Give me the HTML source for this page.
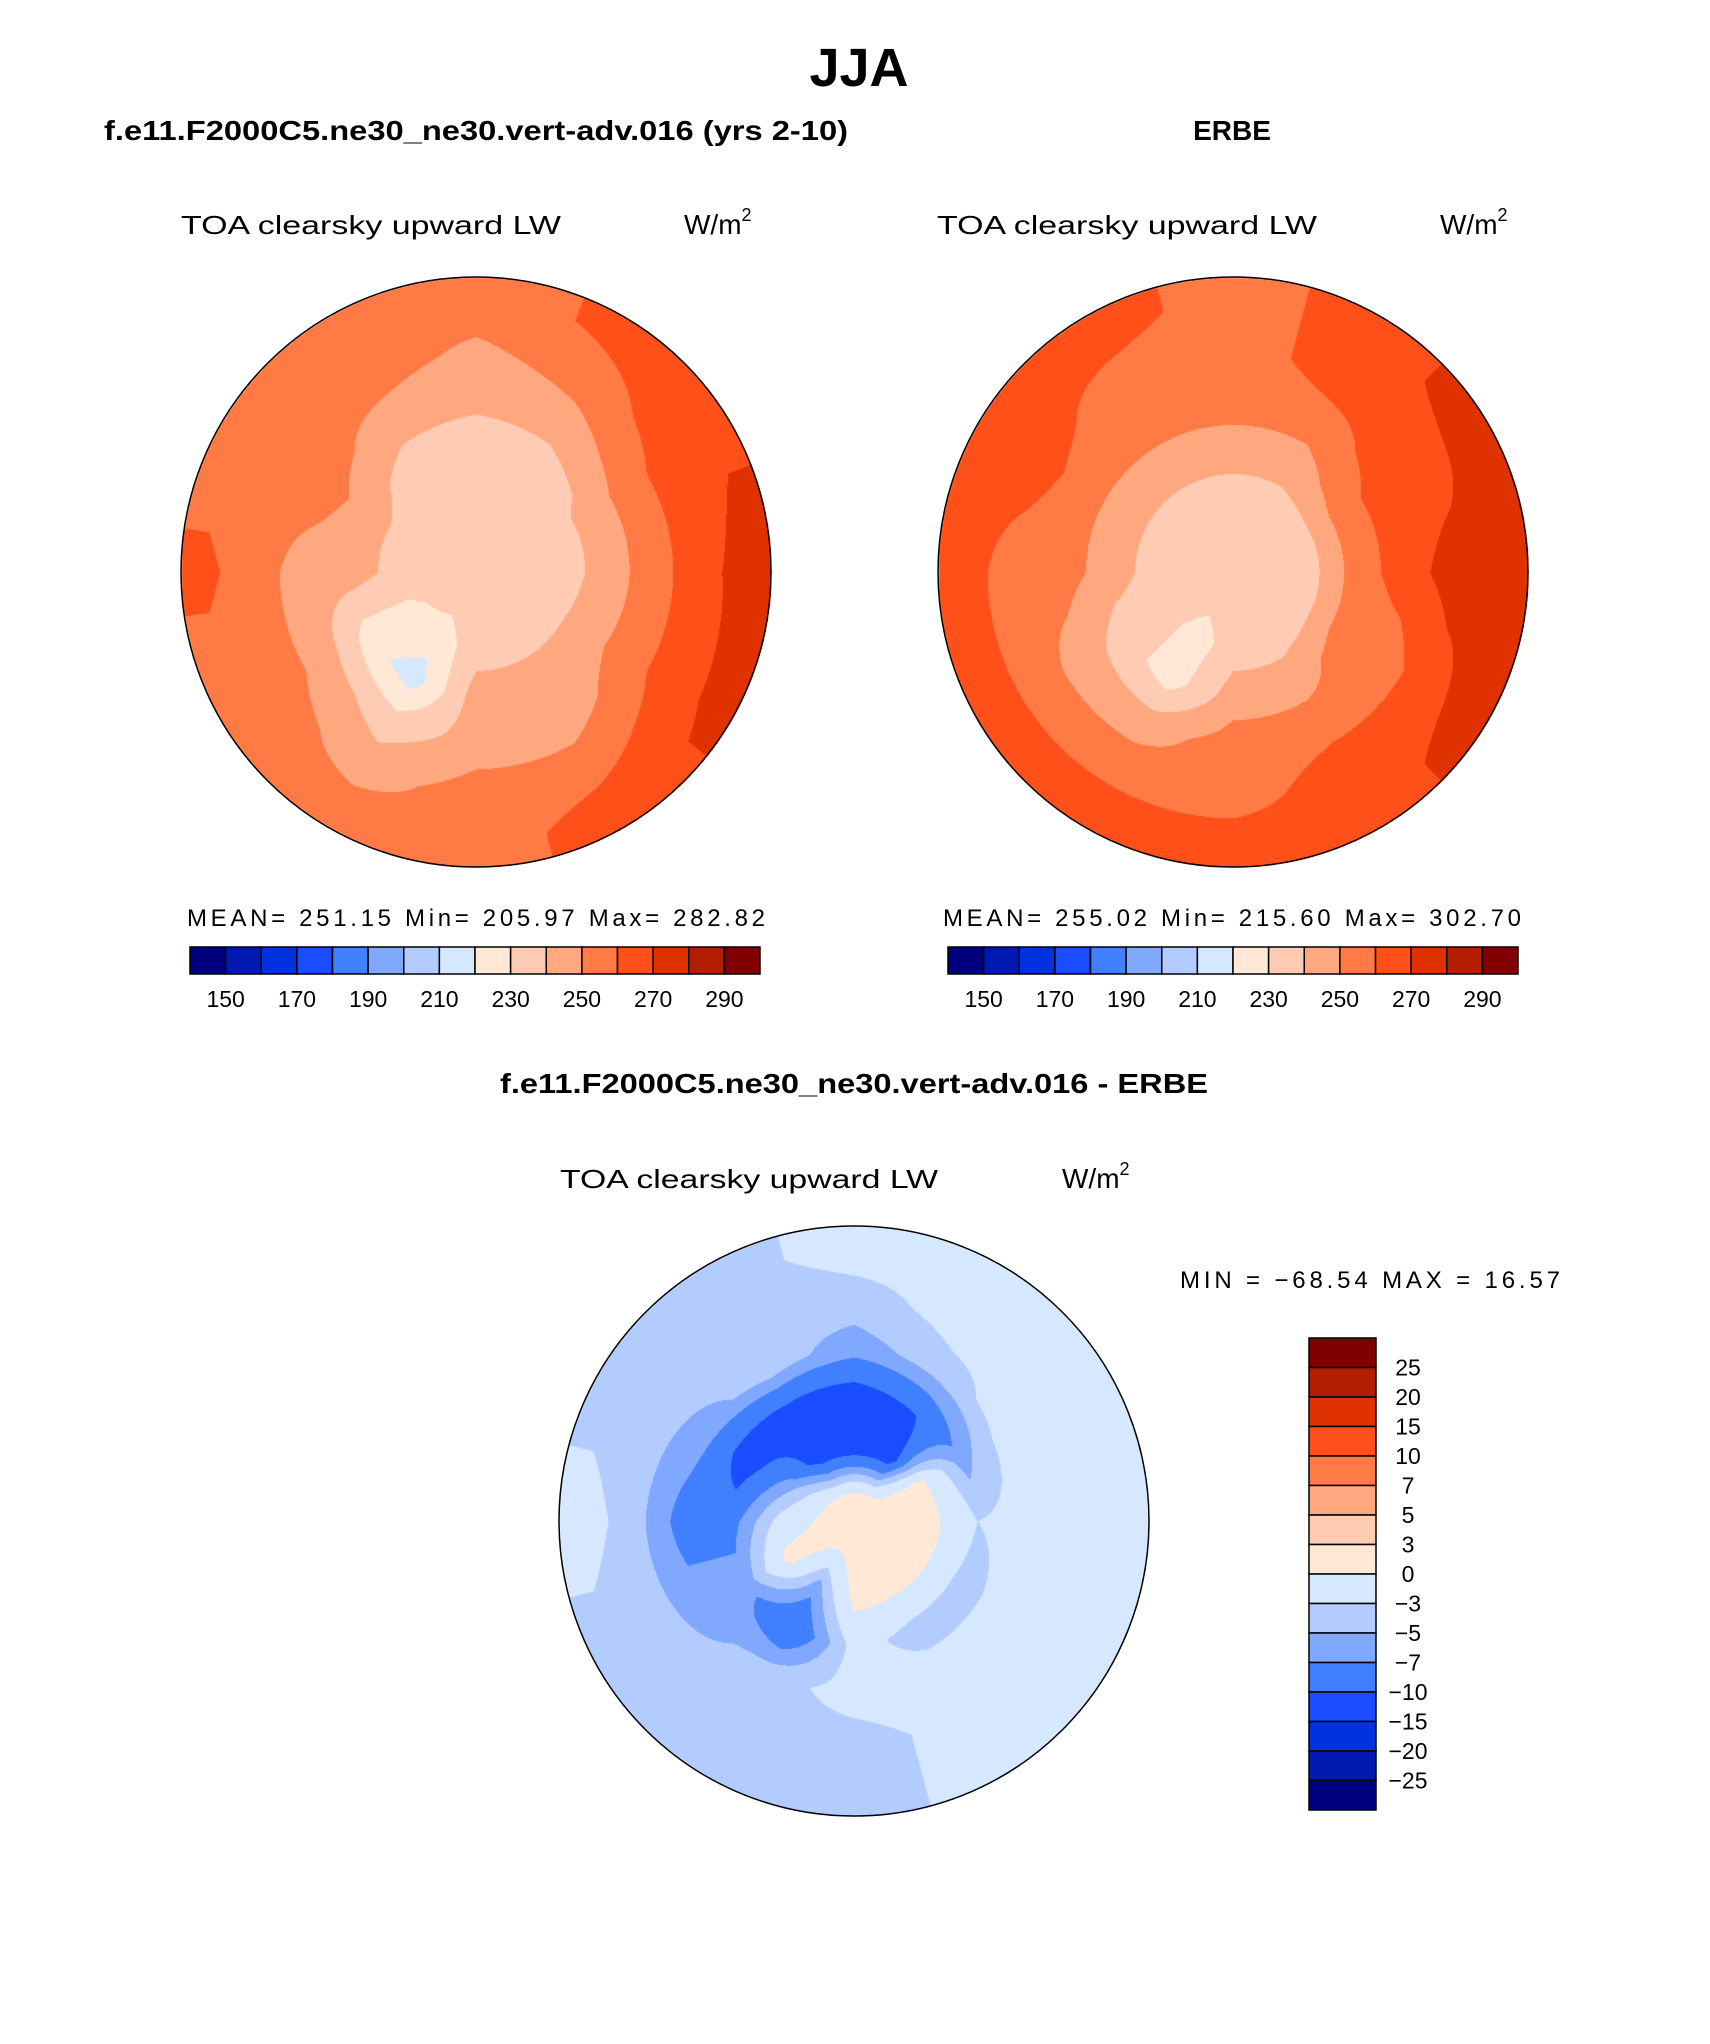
<!DOCTYPE html>
<html><head><meta charset="utf-8">
<style>
html,body{margin:0;padding:0;background:#fff;}
#wrap{position:relative;width:1710px;height:2044px;overflow:hidden;font-family:"Liberation Sans",sans-serif;}
canvas{position:absolute;}
svg{position:absolute;left:0;top:0;}
</style></head>
<body>
<div id="wrap">
<canvas id="mapA" width="600" height="600" style="left:176px;top:272px"></canvas>
<canvas id="mapB" width="600" height="600" style="left:933px;top:272px"></canvas>
<canvas id="mapC" width="600" height="600" style="left:554px;top:1221px"></canvas>
<svg id="ov" width="1710" height="2044">
<text x="859" y="86" text-anchor="middle" font-size="54" font-weight="bold">JJA</text>
<text x="104" y="140" font-size="28" font-weight="bold" textLength="744" lengthAdjust="spacingAndGlyphs">f.e11.F2000C5.ne30_ne30.vert-adv.016 (yrs 2-10)</text>
<text x="1232" y="140" text-anchor="middle" font-size="28" font-weight="bold">ERBE</text>
<text x="181" y="234" font-size="26" textLength="380" lengthAdjust="spacingAndGlyphs">TOA clearsky upward LW</text>
<text x="684" y="234" font-size="28">W/m<tspan font-size="18" dy="-13">2</tspan></text>
<text x="937" y="234" font-size="26" textLength="380" lengthAdjust="spacingAndGlyphs">TOA clearsky upward LW</text>
<text x="1440" y="234" font-size="28">W/m<tspan font-size="18" dy="-13">2</tspan></text>
<text x="187" y="926" font-size="24" textLength="578" lengthAdjust="spacing">MEAN= 251.15   Min= 205.97   Max= 282.82</text>
<text x="943" y="926" font-size="24" textLength="578" lengthAdjust="spacing">MEAN= 255.02   Min= 215.60   Max= 302.70</text>
<text x="500" y="1093" font-size="28" font-weight="bold" textLength="708" lengthAdjust="spacingAndGlyphs">f.e11.F2000C5.ne30_ne30.vert-adv.016 - ERBE</text>
<text x="560" y="1188" font-size="26" textLength="378" lengthAdjust="spacingAndGlyphs">TOA clearsky upward LW</text>
<text x="1062" y="1188" font-size="28">W/m<tspan font-size="18" dy="-13">2</tspan></text>
<text x="1180" y="1288" font-size="24" textLength="380" lengthAdjust="spacing">MIN = −68.54 MAX =   16.57</text>
<g id="cbars"></g>
<circle cx="476" cy="572" r="295" fill="none" stroke="#000" stroke-width="1.5"/>
<circle cx="1233" cy="572" r="295" fill="none" stroke="#000" stroke-width="1.5"/>
<circle cx="854" cy="1521" r="295" fill="none" stroke="#000" stroke-width="1.5"/>
</svg>
</div>
<script>
// ---- colour tables ----
const absColors = ["#00007f","#0019b0","#0032e0","#1a4dff","#4080ff","#80a8ff","#b3ccff","#d6e8ff","#ffe8d6","#ffcbb3","#ffa880","#ff7a45","#ff5019","#e03200","#b31e00","#800000"];
const absLevels = [150,160,170,180,190,200,210,220,230,240,250,260,270,280,290];
const absTickLabels = ["150","170","190","210","230","250","270","290"];
const diffLevels = [-25,-20,-15,-10,-7,-5,-3,0,3,5,7,10,15,20,25];
const diffTickLabels = ["25","20","15","10","7","5","3","0","−3","−5","−7","−10","−15","−20","−25"];
// ---- polar grid data: rings (centre->edge) x 12 sectors (clockwise from east) ----
const modelField = [
 [235,235,235,235,235,235,235,235,235,235,235,235],
 [235,235,235,235,225,228,235,235,235,235,235,235],
 [242,245,245,245,215,225,245,245,235,235,235,242],
 [255,255,245,245,235,245,245,255,245,242,245,255],
 [265,265,255,255,245,255,255,255,255,248,255,265],
 [275,272,265,255,255,255,262,255,255,255,262,268]
];
const erbeField = [
 [235,235,235,235,235,235,235,235,235,235,235,235],
 [235,235,235,235,225,235,235,235,235,235,235,235],
 [255,255,245,245,225,235,245,245,245,245,245,255],
 [265,255,255,255,245,245,255,255,255,255,255,265],
 [275,265,265,255,255,255,255,265,255,255,265,265],
 [275,275,265,265,265,265,265,265,265,255,265,275]
];
const diffField = [
 [1,1,1,1,1,1,1,1,1,1,1,1],
 [1,1,1,1,-6,1,-2,-6,-12,-12,-12,1],
 [-3,-4,-4,-2,-10,-6,-8,-12,-12,-12,-10,-6],
 [-2,-2,-2,-2,-4,-6,-8,-6,-4,-6,-4,-2],
 [-2,-2,-2,-4,-4,-4,-4,-4,-4,-4,-2,-2],
 [-2,-2,-2,-4,-4,-4,-2,-4,-4,-2,-2,-2]
];

function colorIndex(v, levels){
  let i=0; while(i<levels.length && v>=levels[i]) i++; return i;
}
function hexToRgb(h){return [parseInt(h.substr(1,2),16),parseInt(h.substr(3,2),16),parseInt(h.substr(5,2),16)];}
const rgbTable = absColors.map(hexToRgb);

function sample(field, rf, ang){
  const nr=field.length, ns=field[0].length;
  let ri = rf*nr-0.5; if(ri<0) ri=0; if(ri>nr-1) ri=nr-1;
  const r0=Math.floor(ri), r1=Math.min(nr-1,r0+1), fr=ri-r0;
  let si = ang/(2*Math.PI)*ns; si=((si%ns)+ns)%ns;
  const s0=Math.floor(si)%ns, s1=(s0+1)%ns, fs=si-Math.floor(si);
  const a=field[r0][s0]*(1-fs)+field[r0][s1]*fs;
  const b=field[r1][s0]*(1-fs)+field[r1][s1]*fs;
  return a*(1-fr)+b*fr;
}
function drawMap(id, field, levels, R){
  const c=document.getElementById(id), ctx=c.getContext('2d');
  const img=ctx.createImageData(600,600), d=img.data;
  for(let y=0;y<600;y++)for(let x=0;x<600;x++){
    const dx=x-300, dy=y-300, r=Math.sqrt(dx*dx+dy*dy);
    if(r>R) continue;
    const v=sample(field, r/R, Math.atan2(dy,dx));
    const col=rgbTable[colorIndex(v,levels)];
    const k=(y*600+x)*4; d[k]=col[0];d[k+1]=col[1];d[k+2]=col[2];d[k+3]=255;
  }
  ctx.putImageData(img,0,0);
}
drawMap('mapA', modelField, absLevels, 295);
drawMap('mapB', erbeField, absLevels, 295);
drawMap('mapC', diffField, diffLevels, 295);

// ---- colour bars ----
const NS="http://www.w3.org/2000/svg";
const g=document.getElementById('cbars');
function hBar(x0,x1,y0,y1,prefix){
  const w=(x1-x0)/absColors.length;
  absColors.forEach((c,i)=>{
    const r=document.createElementNS(NS,'rect');
    r.setAttribute('x',x0+i*w);r.setAttribute('y',y0);r.setAttribute('width',w);r.setAttribute('height',y1-y0);
    r.setAttribute('fill',c);r.setAttribute('stroke','#000');r.setAttribute('stroke-width','1.5');
    
    
    g.appendChild(r);
  });
  absTickLabels.forEach((t,i)=>{
    const tx=document.createElementNS(NS,'text');
    tx.setAttribute('x',x0+(1+2*i)*w);tx.setAttribute('y',y1+33);
    tx.setAttribute('text-anchor','middle');tx.setAttribute('font-size','23');
    tx.textContent=t;
    
    
    g.appendChild(tx);
  });
}
hBar(190,760,947,974,'model');
hBar(948,1518,947,974,'erbe');
(function(){
  const x0=1309,x1=1376,y0=1338,y1=1810,n=absColors.length,h=(y1-y0)/n;
  for(let i=0;i<n;i++){
    const r=document.createElementNS(NS,'rect');
    r.setAttribute('x',x0);r.setAttribute('y',y0+i*h);r.setAttribute('width',x1-x0);r.setAttribute('height',h);
    r.setAttribute('fill',absColors[n-1-i]);r.setAttribute('stroke','#000');r.setAttribute('stroke-width','1.5');
    
    
    g.appendChild(r);
  }
  diffTickLabels.forEach((t,i)=>{
    const tx=document.createElementNS(NS,'text');
    tx.setAttribute('x',1408);tx.setAttribute('y',y0+(i+1)*h+8);
    tx.setAttribute('text-anchor','middle');tx.setAttribute('font-size','23');
    tx.textContent=t;
    
    
    g.appendChild(tx);
  });
})();
</script>
</body></html>
